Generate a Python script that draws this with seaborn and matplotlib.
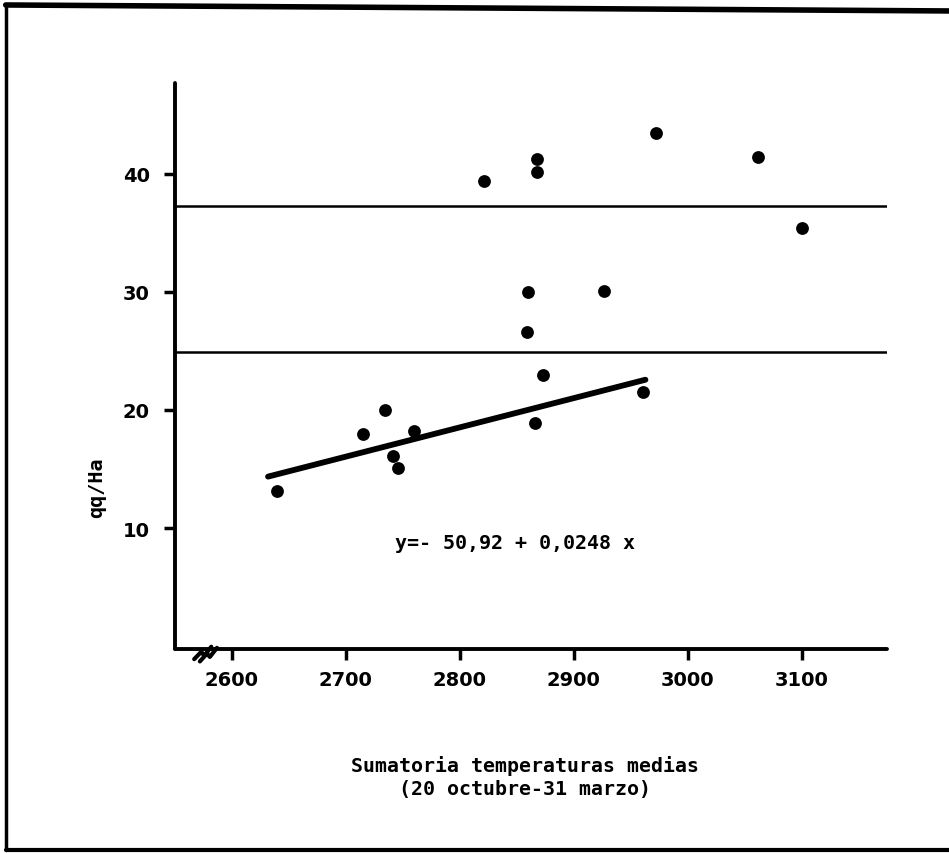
import matplotlib
matplotlib.use("Agg")
import matplotlib.pyplot as plt
import seaborn as sns
import pandas as pd
import numpy as np
from matplotlib.lines import Line2D

# Data
temp_sum = [2639.6, 2715.6, 2734.6, 2760.3, 2741.9, 2746.3, 2859.8, 2927.0, 2859.4,
            2873.5, 2960.6, 2866.2, 2821.7, 2868.2, 2868.2, 2972.3, 3062.0, 3100.6]
yield_qq = [13.1, 18.0, 20.0, 18.2, 16.1, 15.1, 30.0, 30.1, 26.6,
            23.0, 21.5, 18.9, 39.4, 41.3, 40.2, 43.5, 41.4, 35.4]
hline_levels = [37.3, 24.9]
reg_intercept = -50.92
reg_slope = 0.0248
reg_x_range = [2632, 2963]
x_ticks = [2600, 2700, 2800, 2900, 3000, 3100]
y_ticks = [10, 20, 30, 40]

sns.set_style("ticks")
plt.rcParams['font.family'] = ['DejaVu Sans']
plt.rcParams['text.color'] = 'black'
plt.rcParams['xtick.color'] = 'black'
plt.rcParams['ytick.color'] = 'black'
plt.rcParams['axes.edgecolor'] = 'black'
plt.rcParams['axes.labelcolor'] = 'black'

fig = plt.figure(figsize=(9.49, 8.54), dpi=100)
ax = fig.add_axes([0.1844, 0.2389, 0.7503, 0.6627])

df = pd.DataFrame({"x": temp_sum, "y": yield_qq})
sns.scatterplot(data=df, x="x", y="y", ax=ax, color="black", s=85,
                edgecolor="black", linewidth=0, zorder=3)

reg_df = pd.DataFrame({"x": reg_x_range,
                       "y": [reg_intercept + reg_slope * v for v in reg_x_range]})
sns.lineplot(data=reg_df, x="x", y="y", ax=ax, color="black", lw=4.2,
             solid_capstyle="round")

for lvl in hline_levels:
    ax.axhline(lvl, color="black", lw=1.8)

ax.set_xlim(2550.4, 3174.9)
ax.set_ylim(-0.25, 47.7)
ax.set_xticks(x_ticks)
ax.set_yticks(y_ticks)
ax.set_xticklabels([str(t) for t in x_ticks], fontsize=14, fontweight="bold")
ax.set_yticklabels([str(t) for t in y_ticks], fontsize=14, fontweight="bold")
ax.tick_params(axis="both", length=8, width=2.5, color="black", labelcolor="black")
ax.tick_params(axis="x", pad=7)
ax.tick_params(axis="y", pad=10)

for s in ["top", "right"]:
    ax.spines[s].set_visible(False)
for s in ["left", "bottom"]:
    ax.spines[s].set_linewidth(2.8)
    ax.spines[s].set_capstyle("round")
    ax.spines[s].set_color("black")

ax.set_xlabel("")
ax.set_ylabel("qq/Ha", fontsize=14.5, fontweight="bold", family="DejaVu Sans Mono")
ax.yaxis.set_label_coords((106 - 175) / 712, (650 - 488) / 566)

ax.text(0.4775, 0.189, "y=- 50,92 + 0,0248 x", transform=ax.transAxes,
        ha="center", va="center", fontsize=14.4, fontweight="bold",
        family="DejaVu Sans Mono")

fig.text(0.553, 0.09, "Sumatoria temperaturas medias\n(20 octubre-31 marzo)",
         ha="center", va="center", fontsize=14.3, fontweight="bold",
         family="DejaVu Sans Mono", linespacing=1.25)

# axis break mark
bx = (207 - 175) / 712
ax.plot([bx - 0.018, bx - 0.008, bx - 0.004, bx + 0.006],
        [-0.018, -0.005, -0.012, 0.004], transform=ax.transAxes,
        color="black", lw=3, clip_on=False)
ax.plot([bx - 0.010, bx + 0.0, bx + 0.004, bx + 0.014],
        [-0.022, -0.008, -0.014, 0.002], transform=ax.transAxes,
        color="black", lw=3, clip_on=False)

# outer frame
fig.add_artist(Line2D([0.006, 0.006], [0.004, 0.993], transform=fig.transFigure,
                      color="black", lw=2.5))
fig.add_artist(Line2D([0.006, 1.0], [0.993, 0.986], transform=fig.transFigure,
                      color="black", lw=4))
fig.add_artist(Line2D([0.006, 1.0], [0.004, 0.004], transform=fig.transFigure,
                      color="black", lw=3))

fig.savefig("out.png", dpi=100)
